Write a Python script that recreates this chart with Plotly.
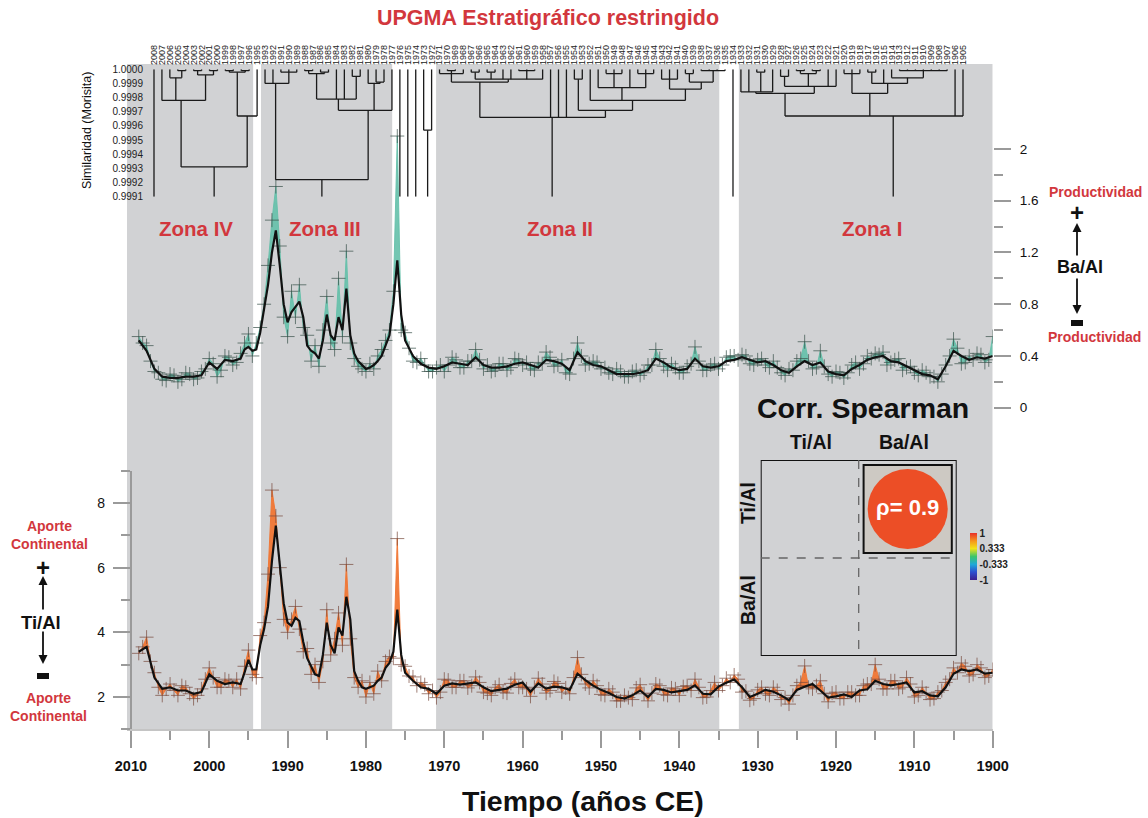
import plotly.graph_objects as go

W, H = 1148, 818


def fx(px):
    return px / W


def fy(py):
    return 1 - py / H


# ---------------- time series (años CE) ----------------
years_recent = list(range(2009, 1995, -1))                 # 2009..1996
years_zone3 = [1995.5 - 0.5 * i for i in range(42)]        # 1995.5..1975
years_old = list(range(1974, 1899, -1))                    # 1974..1900
years = years_recent + years_zone3 + years_old

# intermediate raw samples (half-year) outside the zone III window
years_mid = [y - 0.5 for y in range(2009, 1996, -1)] + [y + 0.5 for y in range(1974, 1899, -1)]

ba_smooth = [
    0.52, 0.44, 0.30, 0.24, 0.23, 0.23, 0.24, 0.24, 0.25, 0.35, 0.30, 0.37, 0.36, 0.38,
    0.45, 0.47, 0.44, 0.45, 0.58, 0.75, 0.95, 1.20, 1.37, 1.10,
    0.80, 0.66, 0.74, 0.78, 0.82, 0.70, 0.48, 0.44, 0.42, 0.38,
    0.52, 0.72, 0.56, 0.52, 0.70, 0.60, 0.92, 0.56, 0.42, 0.36,
    0.33, 0.30, 0.31, 0.33, 0.36, 0.40, 0.48, 0.56, 0.80, 1.14,
    0.72, 0.52,
    0.40, 0.34, 0.31, 0.30, 0.32, 0.35, 0.34, 0.33, 0.39, 0.33,
    0.31, 0.31, 0.32, 0.34, 0.35, 0.33, 0.31, 0.37, 0.36, 0.34,
    0.29, 0.43, 0.36, 0.33, 0.32, 0.29, 0.26, 0.26, 0.26, 0.27,
    0.29, 0.38, 0.35, 0.31, 0.29, 0.30, 0.38, 0.32, 0.31, 0.32,
    0.36, 0.37, 0.39, 0.37, 0.35, 0.36, 0.33, 0.29, 0.27, 0.32,
    0.36, 0.33, 0.35, 0.28, 0.26, 0.25, 0.30, 0.33, 0.37, 0.39,
    0.40, 0.36, 0.35, 0.32, 0.29, 0.26, 0.25, 0.22, 0.32, 0.44,
    0.40, 0.37, 0.39, 0.38, 0.40,
]
ba_raw = [
    0.55, 0.48, 0.28, 0.22, 0.26, 0.20, 0.27, 0.22, 0.28, 0.38, 0.24, 0.40, 0.33, 0.42,
    0.50, 0.57, 0.40, 0.50, 0.62, 0.80, 1.10, 1.45, 1.71, 1.25,
    0.70, 0.55, 0.90, 0.70, 0.95, 0.62, 0.56, 0.36, 0.48, 0.32,
    0.60, 0.86, 0.50, 0.45, 1.00, 0.55, 1.21, 0.50, 0.38, 0.32,
    0.30, 0.28, 0.34, 0.30, 0.40, 0.45, 0.52, 0.60, 0.90, 2.10,
    0.60, 0.58,
    0.36, 0.38, 0.28, 0.31, 0.28, 0.39, 0.31, 0.36, 0.45, 0.30,
    0.28, 0.34, 0.29, 0.38, 0.33, 0.30, 0.35, 0.43, 0.32, 0.37,
    0.26, 0.50, 0.33, 0.36, 0.30, 0.27, 0.30, 0.24, 0.28, 0.25,
    0.33, 0.45, 0.32, 0.34, 0.27, 0.32, 0.47, 0.29, 0.33, 0.30,
    0.39, 0.40, 0.41, 0.34, 0.37, 0.33, 0.36, 0.27, 0.30, 0.36,
    0.51, 0.30, 0.44, 0.26, 0.28, 0.23, 0.33, 0.30, 0.40, 0.42,
    0.43, 0.35, 0.38, 0.31, 0.27, 0.29, 0.24, 0.20, 0.33, 0.53,
    0.34, 0.40, 0.42, 0.35, 0.55,
]
ba_raw_mid = [
    0.50, 0.36, 0.27, 0.21, 0.25, 0.22, 0.26, 0.23, 0.30, 0.34, 0.29, 0.39, 0.35,
    0.46, 0.35, 0.33, 0.28, 0.33, 0.33, 0.37, 0.31, 0.36, 0.37,
    0.33, 0.29, 0.34, 0.31, 0.37, 0.35, 0.29, 0.34, 0.39, 0.33,
    0.27, 0.38, 0.40, 0.34, 0.35, 0.31, 0.26, 0.28, 0.24, 0.29,
    0.27, 0.33, 0.38, 0.29, 0.31, 0.27, 0.34, 0.36, 0.29, 0.34,
    0.33, 0.40, 0.37, 0.40, 0.33, 0.38, 0.31, 0.31, 0.25, 0.29,
    0.38, 0.36, 0.31, 0.32, 0.24, 0.27, 0.27, 0.35, 0.34, 0.38,
    0.41, 0.33, 0.37, 0.29, 0.32, 0.25, 0.27, 0.24, 0.26, 0.40,
    0.46, 0.35, 0.37, 0.41, 0.37,
]
ti_smooth = [
    3.40, 3.55, 2.60, 2.25, 2.30, 2.20, 2.20, 2.10, 2.15, 2.70, 2.50, 2.40, 2.45, 2.40,
    2.75, 3.15, 2.85, 2.85, 3.60, 4.10, 4.80, 6.20, 7.30, 6.20,
    4.90, 4.30, 4.20, 4.45, 4.35, 3.70, 3.20, 2.95, 2.70, 2.65,
    3.30, 4.30, 3.60, 3.35, 4.15, 3.90, 5.10, 4.40, 2.80, 2.50,
    2.30, 2.25, 2.30, 2.35, 2.50, 2.60, 2.90, 3.05, 3.40, 4.70,
    3.30, 2.75,
    2.50, 2.30, 2.25, 2.10, 2.35, 2.42, 2.38, 2.42, 2.45, 2.30,
    2.18, 2.22, 2.26, 2.38, 2.45, 2.16, 2.42, 2.26, 2.32, 2.30,
    2.22, 2.72, 2.52, 2.35, 2.22, 2.12, 2.00, 1.95, 2.05, 2.20,
    2.00, 2.25, 2.22, 2.14, 2.18, 2.22, 2.36, 2.10, 2.08, 2.32,
    2.44, 2.54, 2.30, 2.00, 2.10, 2.22, 2.16, 2.05, 1.90, 2.22,
    2.32, 2.40, 2.20, 1.98, 2.02, 2.08, 2.00, 2.20, 2.24, 2.50,
    2.40, 2.36, 2.40, 2.45, 2.14, 2.18, 2.05, 2.02, 2.30, 2.72,
    2.85, 2.80, 2.85, 2.72, 2.75,
]
ti_raw = [
    3.35, 3.85, 2.75, 2.05, 2.40, 2.05, 2.30, 1.95, 2.25, 2.90, 2.30, 2.55, 2.30, 2.25,
    2.95, 3.45, 2.70, 2.60, 3.90, 4.30, 5.80, 8.40, 7.60, 6.00,
    4.40, 4.00, 4.40, 4.80, 4.10, 3.40, 3.50, 2.70, 3.00, 2.45,
    3.10, 4.70, 3.30, 3.80, 4.60, 3.60, 6.10, 3.80, 2.60, 2.30,
    2.50, 2.00, 2.45, 2.10, 2.80, 2.50, 3.10, 3.25, 3.20, 6.90,
    3.00, 2.95,
    2.62, 2.45, 2.10, 1.98, 2.55, 2.30, 2.50, 2.28, 2.62, 2.15,
    2.05, 2.38, 2.12, 2.55, 2.30, 2.02, 2.58, 2.12, 2.48, 2.15,
    2.10, 3.22, 2.40, 2.50, 2.08, 2.25, 1.88, 2.05, 1.92, 2.38,
    1.88, 2.40, 2.08, 2.28, 2.05, 2.35, 2.55, 1.98, 2.20, 2.20,
    2.58, 2.68, 2.15, 1.90, 2.22, 2.10, 2.30, 1.92, 1.78, 2.35,
    2.96, 2.25, 2.50, 1.85, 2.15, 1.95, 2.15, 2.05, 2.40, 3.00,
    2.25, 2.50, 2.25, 2.60, 2.00, 2.30, 1.92, 2.15, 2.45, 2.90,
    3.05, 2.65, 3.00, 2.60, 2.85,
]
ti_raw_mid = [
    3.55, 3.10, 2.30, 2.25, 2.20, 2.35, 2.10, 2.05, 2.55, 2.60, 2.30, 2.50, 2.55,
    2.65, 2.35, 2.38, 2.20, 2.15, 2.52, 2.30, 2.50, 2.35, 2.45,
    2.12, 2.30, 2.15, 2.42, 2.30, 2.25, 2.30, 2.40, 2.20, 2.42,
    2.28, 2.60, 2.70, 2.28, 2.35, 2.05, 2.15, 1.88, 1.98, 2.28,
    2.10, 2.12, 2.35, 2.05, 2.25, 2.32, 2.20, 2.30, 2.00, 2.45,
    2.35, 2.45, 2.55, 2.18, 1.95, 2.30, 2.05, 2.20, 1.98, 2.05,
    2.45, 2.30, 2.35, 2.10, 2.12, 1.95, 2.15, 2.05, 2.35, 2.40,
    2.55, 2.25, 2.50, 2.30, 2.40, 2.05, 2.12, 1.95, 2.20, 2.55,
    2.75, 2.95, 2.70, 2.90, 2.65,
]

# stratigraphic zones (start year, end year)
zone_names = ["Zona IV", "Zona III", "Zona II", "Zona I"]
zone_start = [2010.5, 1993.4, 1971.05, 1932.4]
zone_end = [1994.4, 1976.65, 1934.9, 1900.0]

# ---------------- UPGMA dendrogram (Morisita similarity) ----------------
leaf_years = list(range(2008, 1994, -1)) + list(range(1993, 1904, -1))
sim_ticks = [1.0000, 0.9999, 0.9998, 0.9997, 0.9996, 0.9995, 0.9994, 0.9993, 0.9992, 0.9991]

zone4_tree = [0.99931,
              [0.99978, 2007, [0.99994, 2006, [0.99999, 2005, 2004]],
               [0.99996, [0.99999, 2003, 2002], [0.99999, 2001, 2000]]],
              [0.99967, [0.99998, [0.99999, 1999, 1998], [0.99999, 1997, 1996]], 1995]]
zone3_tree = [0.99922,
              [0.99990, 1993, 1992, [0.99998, 1991, 1990, 1989]],
              [0.99971,
               [0.99979, [0.99997, [0.99999, 1988, 1987], [0.99998, 1986, 1985]], 1984, 1983,
                [0.99995, 1982, 1981]],
               [0.99990, 1980, [0.99991, 1979, 1978]],
               1977]]
gap_tree = [0.99957, 1973, 1972]
zone2_tree = [0.99966,
              [0.99991,
               [0.99997, 1971, [0.99999, 1970, 1969], 1968],
               [0.99993, [0.99998, 1967, 1966], [0.99998, 1965, 1964], 1963, 1962,
                [0.99999, 1961, 1960, 1959], 1958]],
              1957, 1956, 1955,
              [0.99971, [0.99993, 1954, 1953],
               [0.99978, 1952,
                [0.99987, 1951, [0.99997, 1950, 1949, 1948], 1947, [0.99997, 1946, 1945, 1944]],
                [0.99986, [0.99993, 1943, 1942, 1941],
                 [0.99991, [0.99997, 1940, 1939], [0.99999, 1938, 1937, 1936, 1935]]]]]]
zone1_tree = [0.99967,
              [0.99983,
               [0.99984, 1933, 1932, [0.99998, 1931, 1930], 1929],
               [0.99988, [0.99995, 1928, 1927], [0.99997, [0.99999, 1926, 1925], [0.99999, 1924, 1923]],
                1922, 1921]],
              [0.99983, [0.99997, 1920, 1919, 1918],
               [0.99990, [0.99998, 1917, 1916], 1915,
                [0.99994, 1914, [0.99999, 1913, 1912, 1911, 1910, 1909, 1908, 1907]]]],
              1906, 1905]
dendro_roots = [2008, zone4_tree, zone3_tree, 1976, 1975, 1974, gap_tree, zone2_tree, 1934, zone1_tree]

# ---------------- Spearman correlation ----------------
corr_vars = ["Ti/Al", "Ba/Al"]
rho = 0.9

# ---------------- colours ----------------
RED = "#d2373d"
GRAY_ZONE = "#d1d2d4"
TEAL = "rgba(100,192,170,0.9)"
ORANGE = "rgba(240,118,52,0.95)"
FONT = "Liberation Sans, Arial, sans-serif"


def merge_raw(main_vals, mid_vals):
    """Interleave yearly and half-year raw samples in time order (newest first)."""
    pairs = sorted(zip(years + years_mid, main_vals + mid_vals), key=lambda p: -p[0])
    return [p[0] for p in pairs], [p[1] for p in pairs]


fig = go.Figure()


def add_series(raw_main, raw_mid, smooth, yaxis, band_color, cross_color):
    rx, ry = merge_raw(raw_main, raw_mid)
    fig.add_trace(go.Scatter(x=years, y=smooth, mode="lines", line=dict(width=0),
                             xaxis="x", yaxis=yaxis, showlegend=False, hoverinfo="skip"))
    fig.add_trace(go.Scatter(x=rx, y=ry, mode="lines", line=dict(width=1, color=band_color),
                             fill="tonexty", fillcolor=band_color, xaxis="x", yaxis=yaxis,
                             showlegend=False))
    fig.add_trace(go.Scatter(x=rx, y=ry, mode="markers",
                             marker=dict(symbol="cross-thin", size=10,
                                         line=dict(width=1, color=cross_color)),
                             xaxis="x", yaxis=yaxis, showlegend=False))
    fig.add_trace(go.Scatter(x=years, y=smooth, mode="lines", line=dict(width=2.2, color="#111111"),
                             xaxis="x", yaxis=yaxis, showlegend=False))


add_series(ba_raw, ba_raw_mid, ba_smooth, "y2", TEAL, "rgba(55,80,72,0.7)")
add_series(ti_raw, ti_raw_mid, ti_smooth, "y", ORANGE, "rgba(120,72,60,0.7)")

# dendrogram segments
leaf_pos = {yr: i for i, yr in enumerate(leaf_years)}
seg_x, seg_y = [], []
SIM_BASE = sim_ticks[-1]
SIM_TOP = sim_ticks[0]


def draw_node(node):
    if isinstance(node, int):
        return leaf_pos[node], SIM_TOP
    h = node[0]
    kids = [draw_node(c) for c in node[1:]]
    xs = [k[0] for k in kids]
    for kx, ky in kids:
        seg_x.extend([kx, kx, None])
        seg_y.extend([ky, h, None])
    seg_x.extend([min(xs), max(xs), None])
    seg_y.extend([h, h, None])
    return sum(xs) / len(xs), h


for root in dendro_roots:
    rx, rh = draw_node(root)
    seg_x.extend([rx, rx, None])
    seg_y.extend([rh, SIM_BASE, None])

fig.add_trace(go.Scatter(x=seg_x, y=seg_y, mode="lines", line=dict(color="#1a1a1a", width=1.3),
                         xaxis="x3", yaxis="y3", showlegend=False, hoverinfo="skip"))

# correlation circle
corr_scale = [[0.0, "#3b1f8e"], [0.17, "#2c4fd0"], [0.33, "#1fa8d8"], [0.5, "#3cc46b"],
              [0.67, "#f2e21a"], [0.83, "#f5961e"], [1.0, "#e8302a"]]
fig.add_trace(go.Scatter(
    x=[1.5], y=[0.5], mode="markers+text", text=[f"ρ= {rho}"],
    textfont=dict(family=FONT, size=22, color="white", weight="bold"),
    marker=dict(size=abs(rho) * 89, color=[rho], colorscale=corr_scale, cmin=-1, cmax=1,
                line=dict(width=0),
                colorbar=dict(x=fx(960), xanchor="left", y=fy(556.5), yanchor="middle",
                              len=67 / H, thickness=7, outlinewidth=0,
                              tickvals=[1, 0.333, -0.333, -1], ticktext=["1", "0.333", "-0.333", "-1"],
                              tickfont=dict(family=FONT, size=10, color="#222", weight="bold"),
                              ticks="")),
    xaxis="x4", yaxis="y4", showlegend=False, hoverinfo="skip"))

shapes = []
for zs, ze in zip(zone_start, zone_end):
    shapes.append(dict(type="rect", xref="x", yref="paper", x0=zs, x1=ze, y0=fy(730), y1=fy(64),
                       fillcolor=GRAY_ZONE, line=dict(width=0), layer="below"))

# correlation matrix frame
shapes += [
    dict(type="rect", xref="x4", yref="y4", x0=0, x1=2, y0=0, y1=2, line=dict(color="#111", width=2)),
    dict(type="line", xref="x4", yref="y4", x0=1, x1=1, y0=0, y1=2,
         line=dict(color="#666", width=1.3, dash="dash")),
    dict(type="line", xref="x4", yref="y4", x0=0, x1=2, y0=1, y1=1,
         line=dict(color="#666", width=1.3, dash="dash")),
    dict(type="rect", xref="x4", yref="y4", x0=1.05, x1=1.95, y0=0.05, y1=0.95,
         fillcolor="#cdc9c3", line=dict(color="#111", width=2), layer="below"),
]
# minus signs of the index legends
for cx, cy in [(1077, 323), (43, 676)]:
    shapes.append(dict(type="rect", xref="paper", yref="paper", x0=fx(cx - 6), x1=fx(cx + 6),
                       y0=fy(cy + 3), y1=fy(cy - 3), fillcolor="#111", line=dict(width=0)))

annotations = []


def label(text, xpx, ypx, size, color="#111", bold=True, angle=0, box_h=None):
    ann = dict(text=text, x=fx(xpx), y=fy(ypx), xref="paper", yref="paper",
               showarrow=False, textangle=angle, xanchor="center", yanchor="middle",
               font=dict(family=FONT, size=size, color=color,
                         weight="bold" if bold else "normal"))
    if box_h:
        ann["height"] = box_h
    annotations.append(ann)


def arrow(xpx, head_y, tail_y):
    annotations.append(dict(text="", x=fx(xpx), y=fy(head_y), xref="paper", yref="paper",
                            ax=0, ay=tail_y - head_y, showarrow=True, arrowhead=2,
                            arrowsize=1, arrowwidth=1.8, arrowcolor="#111"))


label("UPGMA Estratigráfico restringido", 548, 18, 21.5, RED)
zone_label_x = [196, 325, 560, 872]
for name, zx in zip(zone_names, zone_label_x):
    label(name, zx, 228, 20.5, RED)
label("Similaridad (Morisita)", 87, 131, 12.5, "#111", bold=False, angle=-90)
label("Tiempo (años CE)", 583, 801, 28.5)

# Ba/Al index legend
label("Productividad", 1095, 192, 14, RED)
label("+", 1077, 212, 24, box_h=14)
arrow(1077, 223, 257)
label("Ba/Al", 1080, 267, 18)
arrow(1077, 314, 277)
label("Productividad", 1094, 337, 14, RED)

# Ti/Al index legend
label("Aporte<br>Continental", 49, 535, 14, RED)
label("+", 43, 567, 24, box_h=14)
arrow(43, 576, 611)
label("Ti/Al", 41, 622, 18.5)
arrow(43, 664, 630)
label("Aporte<br>Continental", 48, 707, 14, RED)

# correlation panel labels
label("Corr. Spearman", 863, 408, 28.5)
label(corr_vars[0], 811, 442, 19.5)
label(corr_vars[1], 904, 442, 19.5)
label(corr_vars[0], 748, 503, 19.5, angle=-90)
label(corr_vars[1], 748, 600, 19.5, angle=-90)

X0, X1 = 127, 992.7
TICK_GRAY = "#9a9a9a"
fig.update_layout(
    width=W, height=H, margin=dict(l=0, r=0, t=0, b=0, autoexpand=False),
    paper_bgcolor="white", plot_bgcolor="rgba(0,0,0,0)",
    showlegend=False, shapes=shapes, annotations=annotations,
    font=dict(family=FONT, color="#111"),
    xaxis=dict(domain=[fx(X0), fx(X1)], range=[2010.5, 1900], anchor="y",
               tickvals=list(range(2010, 1899, -10)), ticks="outside", ticklen=17, tickwidth=1.5,
               tickcolor=TICK_GRAY, showline=True, linecolor="#c4c4c4", linewidth=2,
               showgrid=False, zeroline=False, ticklabelstandoff=5,
               tickfont=dict(family=FONT, size=14.5, color="#111", weight="bold"),
               minor=dict(tickvals=list(range(2005, 1900, -10)), ticklen=9, tickwidth=1.5,
                          tickcolor=TICK_GRAY, ticks="outside", showgrid=False)),
    yaxis=dict(domain=[fy(729.3), fy(470.7)], range=[1, 9], anchor="free", position=fx(130.5),
               side="left", tickvals=[2, 4, 6, 8], ticks="outside", ticklen=17, tickwidth=1.5,
               tickcolor=TICK_GRAY, showline=True, linecolor=TICK_GRAY, linewidth=1.5,
               showgrid=False, zeroline=False, ticklabelstandoff=5,
               tickfont=dict(family=FONT, size=14, color="#111"),
               minor=dict(tickvals=[1, 3, 5, 7, 9], ticklen=9, tickwidth=1.5,
                          tickcolor=TICK_GRAY, ticks="outside", showgrid=False)),
    yaxis2=dict(domain=[fy(420), fy(120)], range=[-0.095, 2.224], anchor="free", position=fx(993),
                side="right", tickvals=[0, 0.4, 0.8, 1.2, 1.6, 2],
                ticktext=["0", "0.4", "0.8", "1.2", "1.6", "2"], ticks="outside", ticklen=17,
                tickwidth=1.5, tickcolor=TICK_GRAY, showline=False, showgrid=False, zeroline=False,
                ticklabelstandoff=6, tickfont=dict(family=FONT, size=13.5, color="#111"),
                minor=dict(tickvals=[0.2, 0.6, 1.0, 1.4, 1.8], ticklen=9, tickwidth=1.5,
                           tickcolor=TICK_GRAY, ticks="outside", showgrid=False)),
    xaxis3=dict(domain=[fx(X0), fx(X1)], range=[-3.404, 105.745], anchor="free", position=fy(65),
                side="top", tickvals=list(range(len(leaf_years))), ticktext=[str(y) for y in leaf_years],
                tickangle=-90, ticks="", showline=False, showgrid=False, zeroline=False,
                tickfont=dict(family=FONT, size=9, color="#222")),
    yaxis3=dict(domain=[fy(196.7), fy(69.3)], range=[SIM_BASE, SIM_TOP], anchor="free",
                position=fx(145), side="left", tickvals=sim_ticks,
                ticktext=[f"{v:.4f}" for v in sim_ticks], ticks="", showline=False,
                showgrid=False, zeroline=False, ticklabelstandoff=2,
                tickfont=dict(family=FONT, size=10, color="#222")),
    xaxis4=dict(domain=[fx(760.7), fx(956.7)], range=[0, 2], anchor="y4", visible=False),
    yaxis4=dict(domain=[fy(656), fy(460)], range=[2, 0], anchor="x4", visible=False),
)

fig.write_html("out.html")
